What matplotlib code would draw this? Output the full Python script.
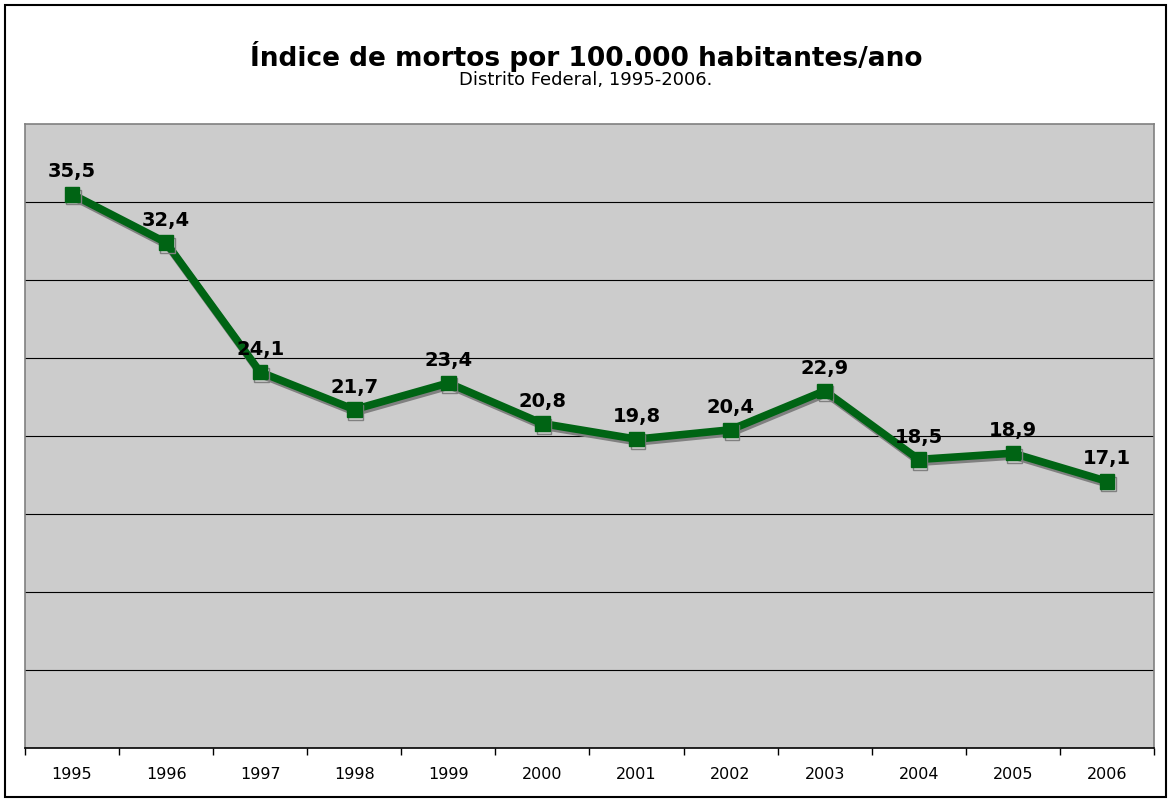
import matplotlib

matplotlib.use("Agg")

import matplotlib.pyplot as plt
import matplotlib.patheffects as pe
from matplotlib.patches import Rectangle

years = ["1995", "1996", "1997", "1998", "1999", "2000",
         "2001", "2002", "2003", "2004", "2005", "2006"]
indice = [35.5, 32.4, 24.1, 21.7, 23.4, 20.8, 19.8, 20.4, 22.9, 18.5, 18.9, 17.1]
grid_values = [5, 10, 15, 20, 25, 30, 35]

green = "#006414"

fig = plt.figure(figsize=(11.72, 8.03), dpi=100)
ax = fig.add_axes([0.0213, 0.0672, 0.9633, 0.7771])
ax.set_facecolor("#cccccc")

x = list(range(len(years)))
ax.plot(
    x, indice,
    color=green, linewidth=5.5, marker="s", markersize=10.5,
    markerfacecolor=green, markeredgecolor=green,
    solid_joinstyle="miter", zorder=3,
    path_effects=[
        pe.SimpleLineShadow(offset=(1, -2), shadow_color="#808080", alpha=1),
        pe.Normal(),
    ],
)

for xi, v in zip(x, indice):
    ax.annotate(
        f"{v:.1f}".replace(".", ","),
        (xi, v), xytext=(0, 10), textcoords="offset points",
        ha="center", va="bottom", fontsize=14, fontweight="bold", zorder=4,
    )

for g in grid_values:
    ax.axhline(g, color="black", linewidth=0.8, zorder=1)

ax.set_xlim(-0.5, len(years) - 0.5)
ax.set_ylim(0, 40)
ax.set_yticks([])
ax.set_xticks(x)
ax.set_xticklabels(years, fontsize=11.5)
ax.set_xticks([i - 0.5 for i in range(len(years) + 1)], minor=True)
ax.tick_params(axis="x", which="major", length=0, pad=13)
ax.tick_params(axis="x", which="minor", length=5, width=1, color="black")

for side in ["top", "right", "left"]:
    ax.spines[side].set_color("#808080")
    ax.spines[side].set_linewidth(1.2)
ax.spines["bottom"].set_color("black")
ax.spines["bottom"].set_linewidth(1.2)

fig.text(0.5, 0.930, "Índice de mortos por 100.000 habitantes/ano",
         ha="center", va="center", fontsize=19, fontweight="bold")
fig.text(0.5, 0.900, "Distrito Federal, 1995-2006.",
         ha="center", va="center", fontsize=13)

fig.patches.append(Rectangle((5 / 1172, 5 / 803), 1 - 11 / 1172, 1 - 11 / 803,
                             transform=fig.transFigure, fill=False,
                             edgecolor="black", linewidth=1.5))

fig.savefig("out.png", dpi=100)
plt.close(fig)
